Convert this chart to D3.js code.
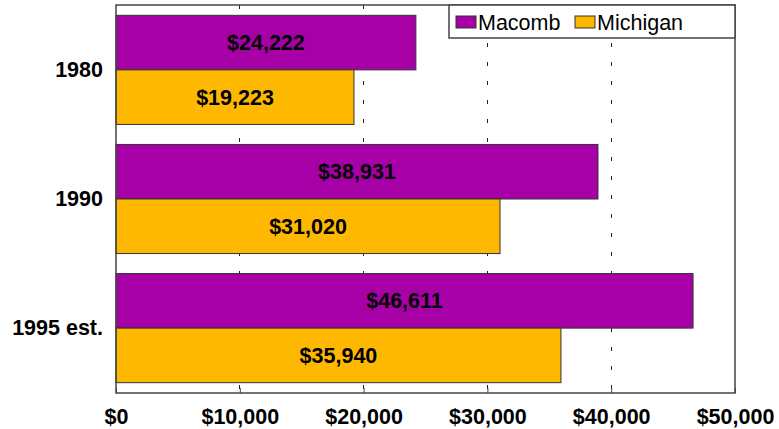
<!DOCTYPE html>
<html><head><meta charset="utf-8">
<script src="https://cdn.jsdelivr.net/npm/d3@7"></script>
<style>body{margin:0;background:#fff}svg{display:block}text{font-family:"Liberation Sans",Arial,sans-serif}</style>
</head><body><svg id="c" width="779" height="429"></svg>
<script>
const categories = ["1980", "1990", "1995 est."];
const seriesNames = ["Macomb", "Michigan"];
const macomb = [24222, 38931, 46611];
const michigan = [19223, 31020, 35940];
const xTicks = [0, 10000, 20000, 30000, 40000, 50000];
const colors = ["#a700a7", "#ffb800"];

const svg = d3.select("#c");
const L = 116, R = 735, T = 5, B = 393;
const FS = 21.5;
const x = d3.scaleLinear().domain([0, 50000]).range([L, R]);
const y = d3.scaleBand().domain(categories).range([T, B]).paddingInner(0.155).paddingOuter(0.08);
const y1 = d3.scaleBand().domain(seriesNames).range([0, y.bandwidth()]);
const fmt = v => "$" + d3.format(",")(v);

// gridlines
svg.append("g").selectAll("line").data(xTicks.slice(1, -1)).join("line")
  .attr("x1", d => x(d)).attr("x2", d => x(d)).attr("y1", T).attr("y2", B)
  .attr("stroke", "#222").attr("stroke-width", 1).attr("stroke-dasharray", "4,15")
  .attr("shape-rendering", "crispEdges");

const data = categories.map((c, i) => ({c, vals: [macomb[i], michigan[i]]}));
const g = svg.append("g").selectAll("g").data(data).join("g")
  .attr("transform", d => `translate(0,${y(d.c)})`);
g.selectAll("rect").data(d => d.vals.map((v, j) => ({v, s: seriesNames[j], j}))).join("rect")
  .attr("x", x(0)).attr("y", d => y1(d.s)).attr("width", d => x(d.v) - x(0)).attr("height", y1.bandwidth())
  .attr("fill", d => colors[d.j]).attr("stroke", "#333").attr("stroke-width", 1);
g.selectAll("text").data(d => d.vals.map((v, j) => ({v, s: seriesNames[j], j}))).join("text")
  .attr("x", d => (x(0) + x(d.v)) / 2).attr("y", d => y1(d.s) + y1.bandwidth() / 2)
  .attr("dy", "0.35em").attr("text-anchor", "middle")
  .attr("font-size", FS).attr("font-weight", "bold").attr("fill", "#000").text(d => fmt(d.v));

// plot border
svg.append("rect").attr("x", L).attr("y", T).attr("width", R - L).attr("height", B - T)
  .attr("fill", "none").attr("stroke", "#444").attr("stroke-width", 1.5);

// x axis
const xa = svg.append("g").attr("transform", `translate(0,${B})`)
  .call(d3.axisBottom(x).tickValues(xTicks).tickFormat(fmt).tickSize(-5).tickPadding(16));
xa.select(".domain").remove();
xa.selectAll("line").attr("stroke", "#444");
xa.selectAll("text").attr("font-size", FS).attr("font-weight", "bold").attr("fill", "#000")
  .attr("font-family", '"Liberation Sans",Arial,sans-serif');

// y axis
const ya = svg.append("g").attr("transform", `translate(${L},0)`)
  .call(d3.axisLeft(y).tickSize(0).tickPadding(13));
ya.select(".domain").remove();
ya.selectAll("text").attr("font-size", FS).attr("font-weight", "bold").attr("fill", "#000")
  .attr("font-family", '"Liberation Sans",Arial,sans-serif');

// legend
const lg = svg.append("g");
lg.append("rect").attr("x", 449).attr("y", 5).attr("width", 286).attr("height", 33)
  .attr("fill", "#fff").attr("stroke", "#444").attr("stroke-width", 1.5);
const lx = [456, 575];
seriesNames.forEach((s, i) => {
  lg.append("rect").attr("x", lx[i]).attr("y", 16).attr("width", 20).attr("height", 12)
    .attr("fill", colors[i]).attr("stroke", "#333").attr("stroke-width", 1);
  lg.append("text").attr("x", lx[i] + 22).attr("y", 22).attr("dy", "0.35em")
    .attr("font-size", FS).attr("fill", "#000").text(s);
});
</script></body></html>
